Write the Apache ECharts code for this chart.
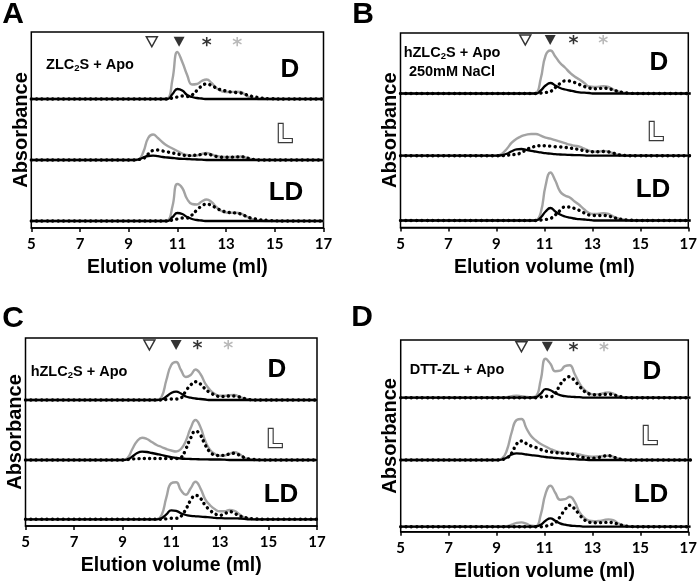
<!DOCTYPE html>
<html><head><meta charset="utf-8">
<script src="https://cdn.jsdelivr.net/npm/echarts@6/dist/echarts.min.js"></script>
<style>html,body{margin:0;padding:0;background:#fff}#c{width:700px;height:587px}</style>
</head><body><div id="c"></div>
<script>
// Elution volume sampling (ml)
const xs = [5, 8.6, 9.0, 9.2, 9.4, 9.6, 9.8, 10.0, 10.2, 10.4, 10.6, 10.8, 11.0, 11.2, 11.4, 11.6, 11.8, 12.0, 12.2, 12.4, 12.6, 12.8, 13.0, 13.2, 13.4, 13.6, 13.8, 14.0, 14.2, 14.4, 14.8, 15.5, 17];
const xTicks = [5, 7, 9, 11, 13, 15, 17];
const traceNames = ['D', 'L', 'LD'];

// Panel A: ZLC2S + Apo
const A_D_gray  = [0,0,0,0,0,0,0,0,0,0, 0.5,20,47,37,24,14.5,15,18,19.5,16,11,8,7,7,7.3,7,4,1.5,0.5,0,0,0,0];
const A_D_black = [0,0,0,0,0,0,0,0,0,0, 0,5,10,8.5,4,2,1,0.5,0,0,0,0,0,0,0,0,0,0,0,0,0,0,0];
const A_D_dot   = [0,0,0,0,0,0,0,0,0,0, 0,1,2,3,2.5,4,8.5,13,15,13.5,11,9,8,7,6.5,6,4.5,3,2,1,0.3,0,0];
const A_L_gray  = [0,0,0,0,0.5,8,22,25.5,22,17.5, 14,11.5,9,6.5,5,4.2,4.5,6,7,5.5,4,3.3,3,3,3.2,3.5,2.5,1,0.3,0,0,0,0];
const A_L_black = [0,0,0,0,0.5,2.5,4,4.3,3.8,3, 2.5,2,1.5,1.2,1,0.7,0.5,0.3,0,0,0,0,0,0,0,0,0,0,0,0,0,0,0];
const A_L_dot   = [0,0,0,0,0.5,1.5,6,9.5,10,9, 8,7,6,5,4.3,4.5,5,5.5,6,5,3.5,2.8,2.7,2.8,3,3.3,2.5,1,0.5,0,0,0,0];
const A_LD_gray = [0,0,0,0,0,0,0,0,0,0, 0.5,15,37,33,22,17,16.5,19.5,21.5,19,14,10,8.5,8.3,8.3,7.5,5,2.5,1,0.3,0,0,0];
const A_LD_black= [0,0,0,0,0,0,0,0,0,0, 0,4,8,7,4,2,1,0.5,0,0,0,0,0,0,0,0,0,0,0,0,0,0,0];
const A_LD_dot  = [0,0,0,0,0,0,0,0,0,0, 0,1,2,3,3,6,11,15,17,15.5,13,10.5,9,8.3,8,7,5,3,2,1.2,0.5,0,0];
const A_marks   = [9.95, 11.07, 12.2, 13.46];

// Panel B: hZLC2S + Apo 250mM NaCl
const B_D_gray  = [0,0,0,0,0,0,0,0,0,0, 0.5,15,38,43,37,30.5,26,21,17,14,10.5,7,6.5,6.8,7.3,6.5,4,2,0.8,0.3,0,0,0];
const B_D_black = [0,0,0,0,0,0,0,0,0,0, 0,3,8,10.5,8,5.5,4,3,2,1.2,0.8,0.5,0,0,0,0,0,0,0,0,0,0,0];
const B_D_dot   = [0,0,0,0,0,0,0,0,0,0, 0,0.5,1,2,6,10,12.5,12.5,11,9,7,5.5,4.7,5,5.3,4.8,3.5,2,1,0.5,0,0,0];
const B_L_gray  = [0,0,0,2,7,13,17,19.5,21,21.7, 21.7,20,18,17,15.5,14,12.5,11,10,9,7,5,4,4.2,4.7,4,2.5,1,0.5,0,0,0,0];
const B_L_black = [0,0,0,0.5,2,4.5,6.3,6.7,5.8,4.8, 4,3.3,2.5,2,1.5,1.2,1,0.8,0.6,0.5,0.3,0,0,0,0,0,0,0,0,0,0,0,0];
const B_L_dot   = [0,0,0,0,0.5,1,1.5,3,6,8, 9.5,10,10,9.5,9,8.8,8.3,7.7,7,6,5,4.2,4,4,4.2,3.8,2.5,1,0.5,0,0,0,0];
const B_LD_gray = [0,0,0,0,0,0,0,0,0,0, 0.3,8,35,48,40,29,25,23,19,15.5,11,7.5,6.5,6.8,7.3,6.5,4,2,1,0.3,0,0,0];
const B_LD_black= [0,0,0,0,0,0,0,0,0,0, 0,3,9,12.5,9,6,4,2.8,2,1.3,1,0.6,0,0,0,0,0,0,0,0,0,0,0];
const B_LD_dot  = [0,0,0,0,0,0,0,0,0,0, 0,0.5,1,2,5.5,10,13.5,13.5,12,10,7.5,5.5,5,5,5,4.5,3,1.7,1,0.5,0,0,0];
const B_marks   = [10.16, 11.19, 12.15, 13.38];

// Panel C: hZLC2S + Apo
const C_D_gray  = [0,0,0,0,0,0,0,0,0,0, 3,20,35,38,30,23,25,30.5,26,16.5,10,6,4.2,4.2,4.8,5,3.5,1.5,0.5,0,0,0,0];
const C_D_black = [0,0,0,0,0,0,0,0,0,0, 0.5,3.5,7,8.3,6.5,3.5,2.3,1.5,1,0.5,0,0,0,0,0,0,0,0,0,0,0,0,0];
const C_D_dot   = [0,0,0,0,0,0,0,0,0,0, 0,0.5,1,1,2,9,15,18.3,16,11,7.3,5,3.5,3.5,4,4,3,1.5,0.5,0,0,0,0];
const C_L_gray  = [0,0,0,2,11,19,22.3,21,18,15, 13,11,9.5,8.5,11,19,32,40,33,19,10,6,4.2,4.5,6,7.7,6,2.5,1,0.3,0,0,0];
const C_L_black = [0,0,0,0.5,3.5,7,8.3,8,7,6, 5,3.8,2.8,2,1.5,1.2,1,0.8,0.7,0.6,0.5,0.5,0.5,0.3,0,0,0,0,0,0,0,0,0];
const C_L_dot   = [0,0,0,0.5,1,1.3,1.5,1.5,1.5,1.5, 1.5,1.5,1.5,1.5,2.5,11,22,29,25,15,8,5,4.5,4.8,6,6.7,5,2.5,1,0.5,0,0,0];
const C_LD_gray = [0,0,0,0,0,0,0,0,0,0, 4,22,36,37,29,24.5,31,37.5,31,20,14,10,8,8,9.3,8.5,5,2,0.8,0,0,0,0];
const C_LD_black= [0,0,0,0,0,0,0,0,0,0, 1,5,9,8.5,6,4.3,3.5,3,2.7,2.3,2,1.5,1.2,1,1,1,0.8,0.5,0,0,0,0,0];
const C_LD_dot  = [0,0,0,0,0,0,0,0,0,0, 0,0.5,1,1,3,10,19,24,21,14,9,5.5,4,5.5,7.7,6,3.5,2,1,0.5,0,0,0];
const C_marks   = [10.1, 11.2, 12.08, 13.35];

// Panel D: DTT-ZL + Apo
const D_D_gray  = [0,0,0,0,0.5,1.5,2,1.5,0.8,0.5, 1.5,18,39,34,26.5,27,31.5,32.5,24,14.5,8,4.5,3.3,3.5,4.5,5.3,4,1.5,0.5,0,0,0,0];
const D_D_black = [0,0,0,0,0,0,0,0,0,0, 0.5,4,8.5,7.5,4.5,2.5,1.5,1,0.7,0.5,0,0,0,0,0,0,0,0,0,0,0,0,0];
const D_D_dot   = [0,0,0,0,0,0,0,0,0,0, 0,0.5,1.5,1,4,13,18.5,21,17,11.5,6.5,3.8,3,3,3.3,3.5,3,1.5,0.7,0,0,0,0];
const D_L_gray  = [0,0,0,1.5,10,28,40,41,32,24, 19.5,16,13.5,11,9,7.7,7,6.7,6.5,5.5,4.3,3.5,3.3,3.5,4,4.3,3.3,1.5,0.5,0,0,0,0];
const D_L_black = [0,0,0,0.5,2.5,5.5,6.7,6.3,5.5,4.8, 4.3,3.7,3,2.5,2,1.7,1.3,1,0.8,0.5,0.3,0,0,0,0,0,0,0,0,0,0,0,0];
const D_L_dot   = [0,0,0,0.5,2,7,16,19,16.5,14, 12.5,10.5,9,8,7.5,7,6.8,6.5,5,3.3,2.3,1.7,1.8,2.5,3.8,4.3,3,1.3,0.5,0,0,0,0];
const D_LD_gray = [0,0,0,0,0.5,2,3.8,4.3,3,1, 0.5,12,33,41,34,27,27.5,30,25,14.5,9,6,5.5,5.7,6.5,7.3,6.5,3.5,1.5,0.5,0,0,0];
const D_LD_black= [0,0,0,0,0,0,0,0,0,0, 0.3,2,6,8.3,6,3.3,2,1.2,0.8,0.5,0,0,0,0,0,0,0,0,0,0,0,0,0];
const D_LD_dot  = [0,0,0,0,0,0,0,0,0,0, 0,0,0.5,2,4,10,17,21.5,18,12,7,4.5,4,4,4.3,4.3,4,2.5,1.2,0.5,0,0,0];
const D_marks   = [10.0, 11.07, 12.15, 13.42];

const panelData = {
  A: {gray:[A_D_gray,A_L_gray,A_LD_gray], black:[A_D_black,A_L_black,A_LD_black], dot:[A_D_dot,A_L_dot,A_LD_dot], marks:A_marks},
  B: {gray:[B_D_gray,B_L_gray,B_LD_gray], black:[B_D_black,B_L_black,B_LD_black], dot:[B_D_dot,B_L_dot,B_LD_dot], marks:B_marks},
  C: {gray:[C_D_gray,C_L_gray,C_LD_gray], black:[C_D_black,C_L_black,C_LD_black], dot:[C_D_dot,C_L_dot,C_LD_dot], marks:C_marks},
  D: {gray:[D_D_gray,D_L_gray,D_LD_gray], black:[D_D_black,D_L_black,D_LD_black], dot:[D_D_dot,D_L_dot,D_LD_dot], marks:D_marks}
};

// Layout (pixels)
const layout = {
  A: {left:31.3, right:323.5, top:32, axis:228, base:[99,160,221], mk:57.3, letter:[13,15],
      note:[{t:'ZLC{s|2}S + Apo', x:90, y:65}], tl:[[290,70],[285,135],[286,193]]},
  B: {left:400.5, right:690.7, top:33, axis:227.5, base:[93.5,155.7,220.5], mk:53.5, letter:[363,15],
      note:[{t:'hZLC{s|2}S + Apo', x:452, y:53},{t:'250mM NaCl', x:452, y:72}], tl:[[659,63],[656,133],[653,190]]},
  C: {left:25.5, right:317, top:338, axis:526, base:[400,460,519.3], mk:55, letter:[13,319],
      note:[{t:'hZLC{s|2}S + Apo', x:79, y:372}], tl:[[277,370],[275,440],[281,495]]},
  D: {left:400.7, right:690.5, top:340, axis:531.7, base:[397.7,460,526.7], mk:51, letter:[362,318],
      note:[{t:'DTT-ZL + Apo', x:457, y:370}], tl:[[652,372],[650,437],[651,495]]}
};

const FONT = 'Liberation Sans';
const grids = [], xAxes = [], yAxes = [], series = [], graphics = [];
const toPairs = (arr) => xs.map((x, i) => [x, arr[i]]);

Object.keys(layout).forEach((k) => {
  const L = layout[k], P = panelData[k];
  const w = L.right - L.left;
  // frame grid
  const fi = grids.length;
  grids.push({left:L.left, top:L.top, width:w, height:L.axis - L.top, show:true, borderColor:'#000', borderWidth:1.5, backgroundColor:'rgba(0,0,0,0)'});
  xAxes.push({gridIndex:fi, type:'value', min:5, max:17, interval:2,
    axisLine:{show:true, onZero:false, lineStyle:{color:'#000', width:1.5}},
    axisTick:{show:true, inside:false, length:4, lineStyle:{color:'#000', width:1.5}},
    axisLabel:{color:'#000', fontSize:15, fontWeight:'bold', fontFamily:'Lato', margin:9},
    splitLine:{show:false},
    name:'Elution volume (ml)', nameLocation:'middle', nameGap:30,
    nameTextStyle:{color:'#000', fontSize:19.5, fontWeight:'bold', fontFamily:FONT}});
  yAxes.push({gridIndex:fi, type:'value', min:0, max:1, axisLine:{show:false}, axisTick:{show:false},
    axisLabel:{show:false}, splitLine:{show:false},
    name:'Absorbance', nameLocation:'middle', nameGap:0,
    nameTextStyle:{color:'#000', fontSize:20, fontWeight:'bold', fontFamily:FONT}});
  // sub grids
  const tops = [L.top, L.base[0], L.base[1]];
  traceNames.forEach((tn, j) => {
    const gi = grids.length;
    const h = L.base[j] - tops[j];
    grids.push({left:L.left, top:tops[j], width:w, height:h, show:false});
    xAxes.push({gridIndex:gi, type:'value', min:5, max:17, show:false});
    yAxes.push({gridIndex:gi, type:'value', min:0, max:h, show:false});
    const common = {type:'line', xAxisIndex:gi, yAxisIndex:gi, showSymbol:false, symbol:'none', smooth:0.5, clip:false, silent:true, animation:false};
    series.push(Object.assign({}, common, {name:k+tn+' gray', data:toPairs(P.gray[j]), z:2, lineStyle:{color:'#a3a3a3', width:2.4}}));
    series.push(Object.assign({}, common, {name:k+tn+' dot', data:toPairs(P.dot[j]), z:3, lineStyle:{color:'#000', width:3.4, type:[0.1,5.3], cap:'round'}}));
    series.push(Object.assign({}, common, {name:k+tn+' black', data:toPairs(P.black[j]), z:4, lineStyle:{color:'#000', width:2.3}}));
    if (j === 0) {
      series.push({type:'scatter', xAxisIndex:gi, yAxisIndex:gi, symbol:'triangle', symbolRotate:180, symbolSize:[11,10], silent:true, animation:false, z:5,
        data:[{value:[P.marks[0], L.mk], itemStyle:{color:'#fff', borderColor:'#000', borderWidth:1.5}},
              {value:[P.marks[1], L.mk], itemStyle:{color:'#000'}}]});
      series.push({type:'scatter', xAxisIndex:gi, yAxisIndex:gi, symbol:'circle', symbolSize:1, itemStyle:{color:'rgba(0,0,0,0)'}, silent:true, animation:false, z:5,
        label:{show:true, position:'inside', formatter:'*', fontSize:19, fontWeight:'bold', fontFamily:'DejaVu Sans', offset:[0,4]},
        data:[{value:[P.marks[2], L.mk], label:{color:'#000'}},
              {value:[P.marks[3], L.mk], label:{color:'#a8a8a8'}}]});
    }
  });
  // texts
  graphics.push({type:'text', x:L.letter[0], y:L.letter[1], style:{text:k, font:'bold 30px '+FONT, fill:'#000', align:'center', verticalAlign:'middle'}});
  L.note.forEach((n) => graphics.push({type:'text', x:n.x, y:n.y, style:{text:n.t, font:'bold 14.5px '+FONT, fill:'#000', align:'center', verticalAlign:'middle',
    rich:{s:{fontSize:9.5, fontWeight:'bold', fontFamily:FONT, verticalAlign:'bottom', padding:[6,0,0,0]}}}}));
  graphics.push({type:'text', x:L.tl[0][0], y:L.tl[0][1], style:{text:'D', font:'bold 26px '+FONT, fill:'#000', align:'center', verticalAlign:'middle'}});
  graphics.push({type:'text', x:L.tl[1][0], y:L.tl[1][1], style:{text:'L', font:'bold 25px '+FONT, fill:'#fff', stroke:'#3a3a3a', lineWidth:2.4, align:'center', verticalAlign:'middle'}});
  graphics.push({type:'text', x:L.tl[2][0], y:L.tl[2][1], style:{text:'LD', font:'bold 26px '+FONT, fill:'#000', align:'center', verticalAlign:'middle'}});
});

const chart = echarts.init(document.getElementById('c'), null, {renderer:'canvas'});
chart.setOption({backgroundColor:'#fff', animation:false, grid:grids, xAxis:xAxes, yAxis:yAxes, series:series, graphic:graphics});
</script></body></html>
